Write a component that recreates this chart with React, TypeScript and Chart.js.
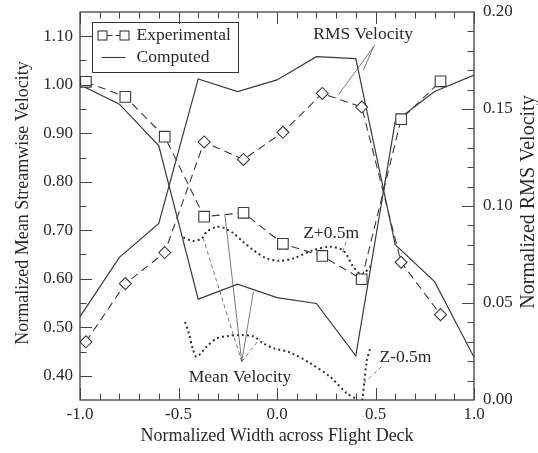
import React, { useEffect, useRef } from 'react';
import { Chart, registerables } from 'chart.js';

Chart.register(...registerables);

// ---- data ----
const computedX = [-1.0, -0.8, -0.6, -0.4, -0.2, 0.0, 0.2, 0.4, 0.6, 0.8, 1.0];
const computedMean = [1.0, 0.96, 0.874, 0.558, 0.589, 0.561, 0.549, 0.441, 0.924, 0.986, 1.02];
const computedRms = [0.043, 0.0735, 0.091, 0.1655, 0.159, 0.165, 0.177, 0.176, 0.08, 0.061, 0.022];

const expX = [-0.97, -0.77, -0.57, -0.37, -0.17, 0.03, 0.23, 0.43, 0.63, 0.83];
const expMean = [1.006, 0.975, 0.893, 0.728, 0.736, 0.672, 0.647, 0.599, 0.929, 1.007];
const expRms = [0.03, 0.06, 0.076, 0.133, 0.124, 0.138, 0.158, 0.151, 0.071, 0.044];

const zPlusX = [-0.476, -0.425, -0.382, -0.357, -0.306, -0.264, -0.222, -0.171, -0.12, -0.052, 0.015, 0.083, 0.184, 0.269, 0.337, 0.387, 0.43, 0.481];
const zPlusMean = [0.685, 0.678, 0.683, 0.697, 0.707, 0.704, 0.694, 0.676, 0.659, 0.642, 0.637, 0.642, 0.659, 0.666, 0.658, 0.625, 0.609, 0.628];

const zMinusX = [-0.467, -0.45, -0.428, -0.408, -0.357, -0.306, -0.247, -0.179, -0.12, -0.07, -0.019, 0.066, 0.168, 0.269, 0.354, 0.406, 0.425, 0.455, 0.472];
const zMinusMean = [0.511, 0.491, 0.457, 0.439, 0.46, 0.477, 0.482, 0.484, 0.481, 0.467, 0.457, 0.448, 0.426, 0.398, 0.364, 0.35, 0.33, 0.429, 0.455];

const xTicks = [-1.0, -0.5, 0.0, 0.5, 1.0];
const leftTicks = [0.4, 0.5, 0.6, 0.7, 0.8, 0.9, 1.0, 1.1];
const rightTicks = [0.0, 0.05, 0.1, 0.15, 0.2];

const xLabel = 'Normalized Width across Flight Deck';
const leftLabel = 'Normalized Mean Streamwise Velocity';
const rightLabel = 'Normalized RMS Velocity';
const legendLabels = ['Experimental', 'Computed'];

const FONT = '"Liberation Serif", "Times New Roman", serif';
const INK = '#2a2a2a';
const LINE = '#3a3a3a';

const pts = (xs: number[], ys: number[]) => xs.map((x, i) => ({ x, y: ys[i] }));

const range = (a: number, b: number, s: number) => {
  const out: number[] = [];
  for (let v = a; v <= b + 1e-9; v += s) out.push(Math.round(v * 1000) / 1000);
  return out;
};

const decor = {
  id: 'decor',
  afterDatasetsDraw(chart: any) {
    const ctx = chart.ctx as CanvasRenderingContext2D;
    const { left, right, top, bottom } = chart.chartArea;
    const sx = chart.scales.x;
    const sy = chart.scales.y;
    const sy2 = chart.scales.y2;
    const P = (x: number, y: number) => [sx.getPixelForValue(x), sy.getPixelForValue(y)];

    ctx.save();
    // frame
    ctx.strokeStyle = '#333';
    ctx.lineWidth = 1.2;
    ctx.strokeRect(left, top, right - left, bottom - top);

    // ticks
    ctx.lineWidth = 1;
    ctx.strokeStyle = '#444';
    const tick = (x1: number, y1: number, x2: number, y2: number) => {
      ctx.beginPath();
      ctx.moveTo(x1, y1);
      ctx.lineTo(x2, y2);
      ctx.stroke();
    };
    const major = 12;
    const minor = 6.5;
    range(-1, 1, 0.1).forEach((v) => {
      const isMajor = Math.abs(v * 2 - Math.round(v * 2)) < 1e-6;
      const L = isMajor ? major : minor;
      const px = Math.round(sx.getPixelForValue(v)) + 0.5;
      tick(px, bottom, px, bottom - L);
      tick(px, top, px, top + L);
    });
    range(0.4, 1.1, 0.05).forEach((v) => {
      const isMajor = Math.abs(v * 10 - Math.round(v * 10)) < 1e-6;
      const L = isMajor ? major : minor;
      const py = Math.round(sy.getPixelForValue(v)) + 0.5;
      tick(left, py, left + L, py);
    });
    range(0.01, 0.19, 0.01).forEach((v) => {
      const isMajor = Math.abs(v * 20 - Math.round(v * 20)) < 1e-6;
      const L = isMajor ? major : minor;
      const py = Math.round(sy2.getPixelForValue(v)) + 0.5;
      tick(right, py, right - L, py);
    });

    // leader lines
    const seg = (a: number[], b: number[], dashed: boolean) => {
      ctx.save();
      ctx.strokeStyle = '#555';
      ctx.lineWidth = 0.8;
      ctx.setLineDash(dashed ? [4, 3] : []);
      ctx.beginPath();
      ctx.moveTo(a[0], a[1]);
      ctx.lineTo(b[0], b[1]);
      ctx.stroke();
      ctx.restore();
    };
    const mv = P(-0.179, 0.429);
    seg(mv, P(-0.374, 0.683), true);
    seg(mv, P(-0.264, 0.731), false);
    seg(mv, P(-0.12, 0.573), false);
    seg(mv, P(-0.086, 0.477), true);

    seg(P(0.497, 1.082), P(0.311, 0.979), false);
    seg(P(0.49, 1.078), P(0.438, 1.03), false);

    seg(P(0.362, 0.69), P(0.328, 0.649), true);
    seg(P(0.531, 0.419), P(0.43, 0.381), true);

    // annotation texts
    ctx.fillStyle = INK;
    ctx.font = `17.5px ${FONT}`;
    ctx.textAlign = 'center';
    ctx.textBaseline = 'middle';
    const txt = (s: string, x: number, y: number) => {
      const p = P(x, y);
      ctx.fillText(s, p[0], p[1]);
    };
    txt('Mean Velocity', -0.188, 0.397);
    txt('RMS Velocity', 0.437, 1.103);
    txt('Z+0.5m', 0.275, 0.694);
    txt('Z-0.5m', 0.652, 0.437);

    // legend
    const lx = left + 12.5;
    const ly = top + 10.5;
    ctx.strokeStyle = '#333';
    ctx.lineWidth = 1;
    ctx.strokeRect(lx, ly, 146, 50);
    const r1 = ly + 13;
    const r2 = ly + 35;
    ctx.strokeStyle = LINE;
    ctx.lineWidth = 1.1;
    ctx.setLineDash([6, 3]);
    ctx.beginPath();
    ctx.moveTo(lx + 14, r1);
    ctx.lineTo(lx + 28, r1);
    ctx.stroke();
    ctx.setLineDash([]);
    ctx.fillStyle = '#fff';
    [lx + 10, lx + 32].forEach((cx) => {
      ctx.fillRect(cx - 4.5, r1 - 4.5, 9, 9);
      ctx.strokeRect(cx - 4.5, r1 - 4.5, 9, 9);
    });
    ctx.beginPath();
    ctx.moveTo(lx + 9, r2);
    ctx.lineTo(lx + 33, r2);
    ctx.stroke();
    ctx.fillStyle = INK;
    ctx.textAlign = 'left';
    ctx.fillText(legendLabels[0], lx + 44, r1);
    ctx.fillText(legendLabels[1], lx + 44, r2);

    // axis titles
    ctx.textAlign = 'center';
    ctx.font = `18px ${FONT}`;
    ctx.fillText(xLabel, (left + right) / 2, 436);
    ctx.save();
    ctx.translate(23, (top + bottom) / 2 - 3);
    ctx.rotate(-Math.PI / 2);
    ctx.fillText(leftLabel, 0, 0);
    ctx.restore();
    ctx.save();
    ctx.font = `20px ${FONT}`;
    ctx.translate(529, (top + bottom) / 2 - 4);
    ctx.rotate(-Math.PI / 2);
    ctx.fillText(rightLabel, 0, 0);
    ctx.restore();

    ctx.restore();
  },
};

export default function App() {
  const ref = useRef<HTMLCanvasElement>(null);

  useEffect(() => {
    const xFont = { family: FONT, size: 17 };
    const yFont = { family: FONT, size: 17, lineHeight: 0.3 };
    const chart = new Chart(ref.current as HTMLCanvasElement, {
      type: 'scatter',
      data: {
        datasets: [
          {
            label: 'Experimental mean',
            data: pts(expX, expMean),
            yAxisID: 'y',
            showLine: true,
            borderColor: LINE,
            borderWidth: 1.1,
            borderDash: [8, 5],
            pointStyle: 'rect',
            pointRadius: 7.5,
            pointBackgroundColor: '#fff',
            pointBorderColor: LINE,
            pointBorderWidth: 1.1,
            clip: 0,
          },
          {
            label: 'Experimental RMS',
            data: pts(expX, expRms),
            yAxisID: 'y2',
            showLine: true,
            borderColor: LINE,
            borderWidth: 1.1,
            borderDash: [8, 5],
            pointStyle: 'rectRot',
            pointRadius: 6,
            pointBackgroundColor: '#fff',
            pointBorderColor: LINE,
            pointBorderWidth: 1.1,
            clip: 0,
          },
          {
            label: 'Computed mean',
            data: pts(computedX, computedMean),
            yAxisID: 'y',
            showLine: true,
            borderColor: LINE,
            borderWidth: 1.2,
            pointRadius: 0,
            clip: 0,
          },
          {
            label: 'Computed RMS',
            data: pts(computedX, computedRms),
            yAxisID: 'y2',
            showLine: true,
            borderColor: LINE,
            borderWidth: 1.2,
            pointRadius: 0,
            clip: 0,
          },
          {
            label: 'Z+0.5m',
            data: pts(zPlusX, zPlusMean),
            yAxisID: 'y',
            showLine: true,
            borderColor: '#333',
            borderWidth: 2,
            borderDash: [2, 3],
            tension: 0.3,
            pointRadius: 0,
            clip: 0,
          },
          {
            label: 'Z-0.5m',
            data: pts(zMinusX, zMinusMean),
            yAxisID: 'y',
            showLine: true,
            borderColor: '#333',
            borderWidth: 2,
            borderDash: [2, 3],
            tension: 0.3,
            pointRadius: 0,
            clip: 0,
          },
        ],
      },
      options: {
        responsive: false,
        animation: false,
        devicePixelRatio: 1,
        layout: { padding: { top: 12, left: 0, right: 0, bottom: 0 } },
        plugins: { legend: { display: false }, tooltip: { enabled: false }, title: { display: false } },
        scales: {
          x: {
            type: 'linear',
            min: -1,
            max: 1,
            grid: { display: false, drawTicks: false },
            border: { display: false },
            afterBuildTicks: (s: any) => {
              s.ticks = xTicks.map((v) => ({ value: v }));
            },
            afterFit: (s: any) => {
              s.height = 53;
            },
            ticks: {
              font: xFont,
              color: INK,
              padding: 4,
              maxRotation: 0,
              autoSkip: false,
              callback: (v: any) => Number(v).toFixed(1),
            },
          },
          y: {
            type: 'linear',
            position: 'left',
            min: 0.35,
            max: 1.15,
            grid: { display: false, drawTicks: false },
            border: { display: false },
            afterBuildTicks: (s: any) => {
              s.ticks = leftTicks.map((v) => ({ value: v }));
            },
            afterFit: (s: any) => {
              s.width = 80;
            },
            ticks: {
              font: yFont,
              color: INK,
              padding: 7,
              autoSkip: false,
              callback: (v: any) => Number(v).toFixed(2),
            },
          },
          y2: {
            type: 'linear',
            position: 'right',
            min: 0,
            max: 0.2,
            grid: { display: false, drawTicks: false },
            border: { display: false },
            afterBuildTicks: (s: any) => {
              s.ticks = rightTicks.map((v) => ({ value: v }));
            },
            afterFit: (s: any) => {
              s.width = 64;
            },
            ticks: {
              font: yFont,
              color: INK,
              padding: 9,
              autoSkip: false,
              callback: (v: any) => Number(v).toFixed(2),
            },
          },
        },
      },
      plugins: [decor],
    } as any);
    return () => chart.destroy();
  }, []);

  return (
    <div style={{ position: 'absolute', left: 0, top: 0, width: 538, height: 453, background: '#fff', overflow: 'hidden' }}>
      <canvas ref={ref} width={538} height={453} style={{ display: 'block', width: 538, height: 453 }} />
    </div>
  );
}
